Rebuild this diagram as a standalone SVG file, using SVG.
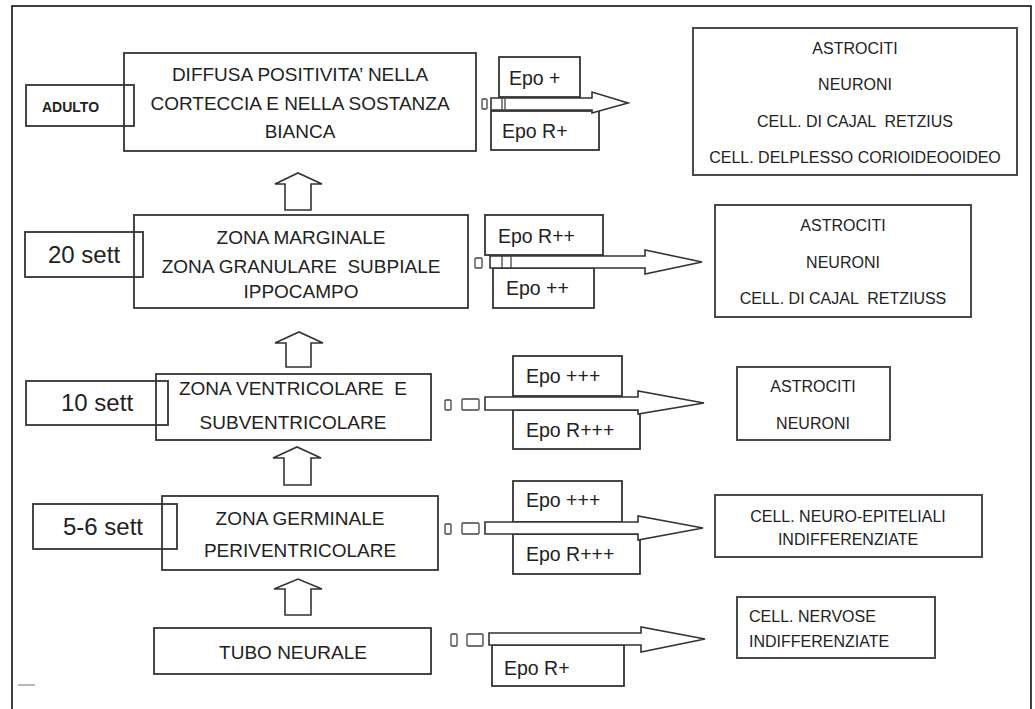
<svg xmlns="http://www.w3.org/2000/svg" width="1035" height="709" viewBox="0 0 1035 709">
<style>
.frame{fill:none;stroke:#111;stroke-width:1.6}
.box{fill:none;stroke:#333;stroke-width:1.8}
.rbox{fill:none;stroke:#4a4a4a;stroke-width:2}
.arr{fill:#fff;stroke:#333;stroke-width:1.6;stroke-linejoin:miter}
.tofu{fill:none;stroke:#444;stroke-width:1.3}
.t{font-family:"Liberation Sans",Arial,sans-serif;fill:#222;white-space:pre}
.main{font-size:19px;text-anchor:middle}
.lab{font-size:24px}
.epo{font-size:19.5px}
.rt{font-size:16px;text-anchor:middle}
.rl{font-size:16px}
</style>
<rect width="1035" height="709" fill="#fff"/>
<rect class="frame" x="12" y="6" width="1019" height="712"/>
<line x1="18" y1="685" x2="35" y2="685" stroke="#888" stroke-width="1.2"/>

<g id="n-adulto">
<rect class="box" x="124" y="53" width="352" height="98"/>
<text class="t main" x="300" y="81">DIFFUSA POSITIVITA’ NELLA</text>
<text class="t main" x="300" y="110">CORTECCIA E NELLA SOSTANZA</text>
<text class="t main" x="300" y="138">BIANCA</text>
</g>
<g id="l-adulto">
<rect class="box" x="26" y="85" width="108" height="41"/>
<text class="t" x="42" y="112" font-size="14" font-weight="bold">ADULTO</text>
</g>
<g id="n-20sett">
<rect class="box" x="134" y="215" width="334" height="93"/>
<text class="t main" x="301" y="244">ZONA MARGINALE</text>
<text class="t main" x="301" y="273">ZONA GRANULARE  SUBPIALE</text>
<text class="t main" x="301" y="298">IPPOCAMPO</text>
</g>
<g id="l-20sett">
<rect class="box" x="25" y="232" width="118" height="45"/>
<text class="t lab" x="48" y="263">20 sett</text>
</g>
<g id="n-10sett">
<rect class="box" x="156" y="374" width="275" height="66"/>
<text class="t main" x="293" y="395">ZONA VENTRICOLARE  E</text>
<text class="t main" x="293" y="429">SUBVENTRICOLARE</text>
</g>
<g id="l-10sett">
<rect class="box" x="26" y="381" width="142" height="44"/>
<text class="t lab" x="61" y="411">10 sett</text>
</g>
<g id="n-56sett">
<rect class="box" x="162" y="496" width="276" height="74"/>
<text class="t main" x="300" y="525">ZONA GERMINALE</text>
<text class="t main" x="300" y="557">PERIVENTRICOLARE</text>
</g>
<g id="l-56sett">
<rect class="box" x="33" y="504" width="144" height="45"/>
<text class="t lab" x="63" y="535">5-6 sett</text>
</g>
<g id="n-tubo">
<rect class="box" x="154" y="628" width="277" height="46"/>
<text class="t main" x="293" y="659">TUBO NEURALE</text>
</g>

<g id="epo-1">
<rect class="box" x="499" y="57" width="81" height="40"/>
<text class="t epo" x="509" y="85">Epo +</text>
<rect class="box" x="491" y="111" width="108" height="39"/>
<text class="t epo" x="502" y="138">Epo R+</text>
</g>
<g id="epo-2">
<rect class="box" x="485" y="215" width="118" height="40"/>
<text class="t epo" x="498" y="243">Epo R++</text>
<rect class="box" x="493" y="268" width="101" height="40"/>
<text class="t epo" x="506" y="295">Epo ++</text>
</g>
<g id="epo-3">
<rect class="box" x="513" y="356" width="109" height="40"/>
<text class="t epo" x="526" y="383">Epo +++</text>
<rect class="box" x="513" y="410" width="127" height="39"/>
<text class="t epo" x="526" y="437">Epo R+++</text>
</g>
<g id="epo-4">
<rect class="box" x="513" y="481" width="109" height="41"/>
<text class="t epo" x="526" y="507">Epo +++</text>
<rect class="box" x="513" y="534" width="127" height="40"/>
<text class="t epo" x="526" y="561">Epo R+++</text>
</g>
<g id="epo-5">
<rect class="box" x="492" y="645" width="132" height="41"/>
<text class="t epo" x="504" y="675">Epo R+</text>
</g>

<g id="r-1">
<rect class="rbox" x="693" y="28" width="324" height="147"/>
<text class="t rt" x="855" y="54">ASTROCITI</text>
<text class="t rt" x="855" y="90">NEURONI</text>
<text class="t rt" x="855" y="127">CELL. DI CAJAL  RETZIUS</text>
<text class="t rt" x="855" y="163">CELL. DELPLESSO CORIOIDEOOIDEO</text>
</g>
<g id="r-2">
<rect class="rbox" x="715" y="205" width="256" height="112"/>
<text class="t rt" x="843" y="231">ASTROCITI</text>
<text class="t rt" x="843" y="268">NEURONI</text>
<text class="t rt" x="843" y="304">CELL. DI CAJAL  RETZIUSS</text>
</g>
<g id="r-3">
<rect class="rbox" x="737" y="367" width="153" height="73"/>
<text class="t rt" x="813" y="392">ASTROCITI</text>
<text class="t rt" x="813" y="429">NEURONI</text>
</g>
<g id="r-4">
<rect class="rbox" x="715" y="495" width="267" height="62"/>
<text class="t rt" x="848" y="522">CELL. NEURO-EPITELIALI</text>
<text class="t rt" x="848" y="545">INDIFFERENZIATE</text>
</g>
<g id="r-5">
<rect class="rbox" x="737" y="597" width="198" height="61"/>
<text class="t rl" x="749" y="622">CELL. NERVOSE</text>
<text class="t rl" x="749" y="647">INDIFFERENZIATE</text>
</g>

<g id="connectors">
<polygon class="arr" points="285,210 285,184 275,184 298,173 322,184 311,184 311,210"/>
<polygon class="arr" points="286,367 286,343 275,343 299,332 323,343 311,343 311,367"/>
<polygon class="arr" points="284,485 284,458 273,458 297,447 321,458 311,458 311,485"/>
<polygon class="arr" points="285,615 285,589 274,589 298,579 322,589 311,589 311,615"/>

<rect class="tofu" x="482" y="99" width="5" height="10" rx="1"/>
<polygon class="arr" points="491,98 592,98 592,92 628,103 592,113 592,110 491,110"/>
<line class="tofu" x1="502" y1="98" x2="502" y2="110"/>
<line class="tofu" x1="505" y1="98" x2="505" y2="110"/>

<rect class="tofu" x="475" y="258" width="7" height="10" rx="1"/>
<polygon class="arr" points="490,256 645,256 645,250 702,262 645,274 645,268 490,268"/>
<line class="tofu" x1="502" y1="256" x2="502" y2="268"/>
<line class="tofu" x1="511" y1="256" x2="511" y2="268"/>

<rect class="tofu" x="445" y="400" width="6" height="10" rx="1"/>
<rect class="tofu" x="462" y="399" width="17" height="11" rx="1"/>
<polygon class="arr" points="485,397 638,397 638,391 704,403 638,414 638,410 485,410"/>

<rect class="tofu" x="445" y="524" width="6" height="10" rx="1"/>
<rect class="tofu" x="462" y="523" width="17" height="11" rx="1"/>
<polygon class="arr" points="485,522 638,522 638,516 703,528 638,540 638,534 485,534"/>

<rect class="tofu" x="451" y="634" width="6" height="12" rx="1"/>
<rect class="tofu" x="467" y="634" width="16" height="12" rx="1"/>
<polygon class="arr" points="489,633 641,633 641,627 705,639 641,652 641,645 489,645"/>
</g>
</svg>
